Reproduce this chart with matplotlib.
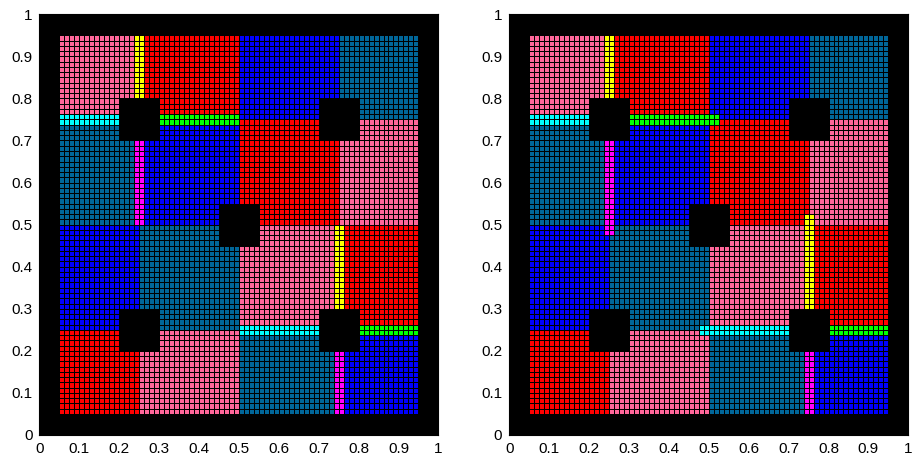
import numpy as np
import matplotlib
matplotlib.use("Agg")
import matplotlib.pyplot as plt
from matplotlib.colors import ListedColormap

# grid: 80 x 80 cells of size 1/80 on [0,1]
n = 80
h = 1.0 / n

colour_names = ["black", "pink", "red", "blue", "teal", "yellow", "cyan", "green", "magenta"]
colour_values = ["#000000", "#ff6699", "#ff0000", "#0000ff", "#006699",
                 "#ffff00", "#00ffff", "#00ff00", "#ff00ff"]

# subdomain edges (cell index) and colours, rows from top to bottom
x_edges = [4, 20, 40, 60, 76]
y_edges = [76, 60, 40, 20, 4]
subdomains = [["pink", "red", "blue", "teal"],
              ["teal", "blue", "red", "pink"],
              ["blue", "teal", "pink", "red"],
              ["red", "pink", "teal", "blue"]]

# holes: centre (cell index), half width 4 cells
hole_centres = [(20, 60), (60, 60), (40, 40), (20, 20), (60, 20)]
hole_half = 4

# interface strips: colour, x0, x1, y0, y1 (cell index)
strips_left = [("yellow", 19, 21, 64, 76),
               ("cyan", 4, 16, 59, 61),
               ("green", 24, 40, 59, 61),
               ("magenta", 19, 21, 40, 56),
               ("yellow", 59, 61, 24, 40),
               ("cyan", 40, 56, 19, 21),
               ("green", 64, 76, 19, 21),
               ("magenta", 59, 61, 4, 16)]
strips_right = [("yellow", 19, 21, 64, 76),
                ("cyan", 4, 16, 59, 61),
                ("green", 24, 42, 59, 61),
                ("magenta", 19, 21, 38, 56),
                ("yellow", 59, 61, 24, 42),
                ("cyan", 38, 56, 19, 21),
                ("green", 64, 76, 19, 21),
                ("magenta", 59, 61, 4, 16)]


def build_grid(strips):
    g = np.zeros((n, n), dtype=int)  # g[j, i]: row j (y), column i (x)
    for r, row in enumerate(subdomains):
        for c, name in enumerate(row):
            g[y_edges[r + 1]:y_edges[r], x_edges[c]:x_edges[c + 1]] = colour_names.index(name)
    for name, x0, x1, y0, y1 in strips:
        g[y0:y1, x0:x1] = colour_names.index(name)
    for cx, cy in hole_centres:
        g[cy - hole_half:cy + hole_half, cx - hole_half:cx + hole_half] = 0
    return g


cmap = ListedColormap(colour_values)
edges = np.linspace(0, 1, n + 1)
ticks = np.round(np.arange(0, 1.01, 0.1), 1)
tick_labels = ["0"] + ["%.1f" % t for t in ticks[1:-1]] + ["1"]

plt.rcParams["font.family"] = ["Liberation Sans", "DejaVu Sans"]
fig = plt.figure(figsize=(9.15, 4.59), dpi=100)
ax1 = fig.add_axes([0.0430, 0.0523, 0.4361, 0.9166])
ax2 = fig.add_axes([0.5566, 0.0523, 0.4361, 0.9166])

for ax, strips in [(ax1, strips_left), (ax2, strips_right)]:
    g = build_grid(strips)
    ax.set_facecolor("black")
    ax.pcolormesh(edges, edges, g, cmap=cmap, vmin=-0.5, vmax=len(colour_values) - 0.5,
                  edgecolors="black", linewidth=0.6)
    ax.set_xlim(0, 1)
    ax.set_ylim(0, 1)
    ax.set_xticks(ticks)
    ax.set_yticks(ticks)
    ax.set_xticklabels(tick_labels)
    ax.set_yticklabels(tick_labels)
    ax.tick_params(length=0, labelsize=11, pad=5)
    for s in ax.spines.values():
        s.set_color("black")

fig.savefig("out.png", dpi=100)
